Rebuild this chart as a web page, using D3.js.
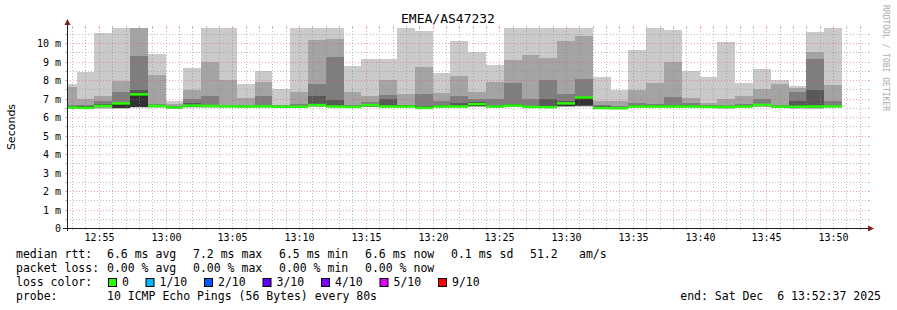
<!DOCTYPE html>
<meta charset='utf-8'>
<head>
  <title>EMEA/AS47232</title>
</head>

<style>
body {
  margin: 0;
  background: #fff;
}

text {
  font-family: "DejaVu Sans Mono", monospace;
  fill: #000;
}

.title { font-size: 13px; }
.tick-label { font-size: 10px; }
.legend text { font-size: 11.5px; }
.unit { font-family: "DejaVu Sans", sans-serif; font-size: 11px; }
.watermark { font-size: 8px; fill: #aaa; }

.grid line { shape-rendering: crispEdges; }
.minor { stroke: rgba(143,143,143,0.6); }
.major { stroke: rgba(222,79,79,0.5); }
.dash { stroke-dasharray: 1,2; }
</style>

<body>
  <svg width='897' height='310'>
    <defs>
      <clipPath id="plot-clip"><rect x="67" y="28" width="801" height="201"></rect></clipPath>
    </defs>
    <g class="smoke" clip-path="url(#plot-clip)"></g>
    <g class="median" clip-path="url(#plot-clip)"></g>
    <g class="grid"></g>
    <g class="axes"></g>
    <g class="legend"></g>
  </svg>

  <script src='https://cdn.jsdelivr.net/npm/d3@7'></script>
  <script>
var title = 'EMEA/AS47232';
var start = new Date(Date.UTC(2025, 11, 6, 12, 52, 37));
var end = new Date(Date.UTC(2025, 11, 6, 13, 52, 37));
var firstEnd = new Date(Date.UTC(2025, 11, 6, 12, 53, 20));
var stepSeconds = 80;

// median rtt per 80s interval (ms)
var medians = [
  6.52, 6.50, 6.60, 6.74, 7.23, 6.60, 6.52, 6.62, 6.60, 6.58, 6.57,
  6.58, 6.56, 6.56, 6.65, 6.57, 6.55, 6.65, 6.57, 6.57, 6.50, 6.57,
  6.57, 6.70, 6.57, 6.62, 6.55, 6.54, 6.74, 7.06, 6.49, 6.48, 6.57,
  6.57, 6.57, 6.57, 6.55, 6.55, 6.57, 6.66, 6.56, 6.56, 6.57, 6.58
];

// the 10 sorted pings of each interval (ms)
var pings = [
  [6.44, 6.46, 6.48, 6.50, 6.51, 6.56, 6.60, 6.68, 7.62, 7.80],
  [6.42, 6.44, 6.46, 6.47, 6.48, 6.52, 6.58, 6.68, 7.00, 8.44],
  [6.45, 6.50, 6.55, 6.57, 6.58, 6.62, 6.70, 6.86, 7.13, 10.55],
  [6.45, 6.47, 6.48, 6.49, 6.50, 6.74, 6.78, 7.34, 7.95, 11.20],
  [6.50, 6.52, 6.54, 6.56, 6.57, 7.28, 7.45, 9.30, 11.00, 11.50],
  [6.50, 6.52, 6.54, 6.56, 6.58, 6.62, 6.66, 6.72, 8.27, 9.40],
  [6.44, 6.46, 6.48, 6.49, 6.50, 6.54, 6.58, 6.62, 6.72, 6.86],
  [6.50, 6.52, 6.53, 6.55, 6.56, 6.62, 6.74, 7.00, 7.46, 8.64],
  [6.50, 6.52, 6.54, 6.55, 6.57, 6.62, 6.68, 7.13, 9.00, 11.30],
  [6.50, 6.52, 6.53, 6.55, 6.56, 6.60, 6.63, 6.68, 8.02, 11.40],
  [6.50, 6.52, 6.53, 6.54, 6.55, 6.59, 6.62, 6.66, 7.03, 7.77],
  [6.50, 6.52, 6.53, 6.55, 6.56, 6.60, 6.64, 7.12, 7.90, 8.50],
  [6.48, 6.50, 6.52, 6.53, 6.54, 6.57, 6.60, 6.63, 6.68, 7.52],
  [6.48, 6.50, 6.52, 6.53, 6.54, 6.58, 6.62, 6.70, 7.34, 11.20],
  [6.55, 6.57, 6.58, 6.60, 6.62, 6.68, 7.12, 7.77, 10.17, 11.30],
  [6.50, 6.52, 6.53, 6.55, 6.56, 6.60, 6.90, 9.25, 10.20, 11.50],
  [6.48, 6.50, 6.52, 6.53, 6.54, 6.57, 6.60, 6.65, 7.34, 8.77],
  [6.52, 6.54, 6.56, 6.58, 6.60, 6.65, 6.70, 6.79, 7.14, 9.13],
  [6.50, 6.52, 6.53, 6.55, 6.56, 6.60, 6.98, 7.20, 8.00, 9.13],
  [6.50, 6.52, 6.53, 6.55, 6.56, 6.60, 6.63, 6.66, 7.24, 11.30],
  [6.45, 6.47, 6.48, 6.50, 6.51, 6.54, 6.58, 7.24, 8.70, 10.65],
  [6.50, 6.52, 6.53, 6.55, 6.56, 6.60, 6.65, 6.86, 7.28, 8.37],
  [6.50, 6.52, 6.53, 6.55, 6.56, 6.62, 6.74, 7.13, 8.21, 10.10],
  [6.55, 6.57, 6.58, 6.60, 6.62, 6.72, 6.80, 6.96, 7.38, 9.52],
  [6.50, 6.52, 6.53, 6.55, 6.56, 6.60, 6.64, 6.96, 7.88, 8.80],
  [6.52, 6.54, 6.56, 6.58, 6.60, 6.65, 6.70, 7.83, 9.10, 11.30],
  [6.48, 6.50, 6.52, 6.53, 6.54, 6.58, 6.62, 7.00, 9.35, 11.20],
  [6.47, 6.49, 6.50, 6.52, 6.53, 6.57, 6.96, 7.99, 9.18, 11.40],
  [6.55, 6.57, 6.59, 6.60, 6.62, 6.76, 6.85, 7.23, 10.10, 11.50],
  [6.55, 6.58, 6.60, 6.62, 6.63, 7.02, 7.10, 8.04, 10.38, 11.30],
  [6.42, 6.44, 6.46, 6.47, 6.48, 6.52, 6.58, 6.64, 6.86, 8.15],
  [6.42, 6.44, 6.45, 6.46, 6.47, 6.50, 6.55, 6.62, 6.88, 7.46],
  [6.50, 6.52, 6.53, 6.55, 6.56, 6.60, 6.66, 6.74, 7.46, 9.62],
  [6.50, 6.52, 6.53, 6.55, 6.56, 6.60, 6.64, 6.70, 7.84, 11.30],
  [6.50, 6.52, 6.53, 6.55, 6.56, 6.60, 6.65, 7.08, 8.98, 10.71],
  [6.50, 6.52, 6.53, 6.55, 6.56, 6.60, 6.65, 6.74, 7.06, 8.50],
  [6.48, 6.50, 6.52, 6.53, 6.54, 6.57, 6.60, 6.65, 6.74, 8.15],
  [6.46, 6.48, 6.50, 6.52, 6.53, 6.56, 6.60, 6.64, 6.97, 10.05],
  [6.50, 6.52, 6.53, 6.55, 6.56, 6.60, 6.65, 6.72, 7.12, 7.83],
  [6.55, 6.57, 6.58, 6.60, 6.62, 6.66, 6.72, 6.96, 7.50, 8.59],
  [6.48, 6.50, 6.52, 6.53, 6.54, 6.57, 6.60, 6.64, 7.77, 7.99],
  [6.45, 6.47, 6.48, 6.50, 6.51, 6.56, 6.85, 7.35, 7.55, 7.67],
  [6.45, 6.47, 6.48, 6.50, 6.52, 6.62, 7.45, 9.13, 9.52, 10.61],
  [6.50, 6.52, 6.53, 6.55, 6.56, 6.60, 6.64, 6.85, 7.73, 11.30]
];

var smokeColors = ['#cacaca', '#a4a4a4', '#7e7e7e', '#585858', '#323232'];
var lossLabels = ['0', '1/10', '2/10', '3/10', '4/10', '5/10', '9/10'];
var lossColors = ['#26ff00', '#00b8ff', '#0059ff', '#5e00ff', '#7e00ff', '#dd00ff', '#ff0000'];

var rttStats = ['6.6 ms avg', '7.2 ms max', '6.5 ms min', '6.6 ms now', '0.1 ms sd'];
var rttExtra = ['51.2', 'am/s'];
var lossStats = ['0.00 % avg', '0.00 % max', '0.00 % min', '0.00 % now'];
var probeText = '10 ICMP Echo Pings (56 Bytes) every 80s';
var endText = 'end: Sat Dec  6 13:52:37 2025';
var yMax = 10.82;

var plotLeft = 67, plotRight = 868, plotTop = 28, plotBottom = 228;
var svg = d3.select('svg');

var x = d3.scaleUtc().domain([start, end]).range([plotLeft, plotRight]);
var y = d3.scaleLinear().domain([0, yMax]).range([plotBottom, plotTop]);

var intervals = pings.map(function(p, i) {
  var e = d3.utcSecond.offset(firstEnd, i * stepSeconds);
  return {
    start: d3.utcSecond.offset(e, -stepSeconds),
    end: e,
    pings: p,
    median: medians[i]
  };
});

function px(t) { return Math.max(plotLeft, Math.round(x(t))); }

// smoke: layer k spans ping k to ping 9-k, darker layers on top
smokeColors.forEach(function(color, k) {
  svg.select('.smoke').append('g')
    .selectAll('rect')
    .data(intervals)
    .enter()
    .append('rect')
    .attr('x', function(d) { return px(d.start); })
    .attr('width', function(d) { return px(d.end) - px(d.start); })
    .attr('y', function(d) { return Math.round(y(d.pings[9 - k])); })
    .attr('height', function(d) { return Math.round(y(d.pings[k])) - Math.round(y(d.pings[9 - k])); })
    .attr('fill', color)
    .attr('shape-rendering', 'crispEdges');
});

svg.select('.median')
  .selectAll('rect')
  .data(intervals)
  .enter()
  .append('rect')
  .attr('x', function(d) { return px(d.start); })
  .attr('width', function(d) { return px(d.end) - px(d.start); })
  .attr('y', function(d) { return y(d.median) - 1.25; })
  .attr('height', 2.5)
  .attr('fill', lossColors[0]);

// grid, drawn on top of the data like rrdtool does
var grid = svg.select('.grid');
var minutes = x.ticks(d3.utcMinute.every(1));
var fives = x.ticks(d3.utcMinute.every(5));
var fiveKeys = fives.map(Number);

minutes.forEach(function(t) {
  var cls = fiveKeys.indexOf(+t) >= 0 ? 'major' : 'minor';
  var xx = Math.round(x(t)) + 0.5;
  grid.append('line').attr('class', cls + ' dash')
    .attr('x1', xx).attr('x2', xx).attr('y1', plotTop).attr('y2', plotBottom);
  grid.append('line').attr('class', cls)
    .attr('x1', xx).attr('x2', xx).attr('y1', plotBottom).attr('y2', plotBottom + 2);
  grid.append('line').attr('class', cls)
    .attr('x1', xx).attr('x2', xx).attr('y1', plotTop - 2).attr('y2', plotTop);
});

var halfSteps = d3.range(1, 22).map(function(i) { return i / 2; }).filter(function(v) { return v <= yMax; });
halfSteps.forEach(function(v) {
  var cls = v % 1 === 0 ? 'major' : 'minor';
  var yy = Math.round(y(v)) + 0.5;
  grid.append('line').attr('class', cls + ' dash')
    .attr('x1', plotLeft).attr('x2', plotRight).attr('y1', yy).attr('y2', yy);
  grid.append('line').attr('class', cls)
    .attr('x1', plotLeft - 2).attr('x2', plotLeft).attr('y1', yy).attr('y2', yy);
  grid.append('line').attr('class', cls)
    .attr('x1', plotRight).attr('x2', plotRight + 2).attr('y1', yy).attr('y2', yy);
});

// axes
var axes = svg.select('.axes');
axes.append('line')
  .attr('x1', plotLeft - 4).attr('x2', plotRight + 1)
  .attr('y1', plotBottom + 0.5).attr('y2', plotBottom + 0.5)
  .attr('stroke', '#1f1f1f');
axes.append('line')
  .attr('x1', plotLeft + 0.5).attr('x2', plotLeft + 0.5)
  .attr('y1', plotBottom + 3).attr('y2', plotTop - 3)
  .attr('stroke', '#1f1f1f');
axes.append('path')
  .attr('d', 'M' + plotRight + ',' + (plotBottom - 2.5) + 'L' + (plotRight + 6) + ',' + (plotBottom + 0.5) + 'L' + plotRight + ',' + (plotBottom + 3.5) + 'Z')
  .attr('fill', '#801f1f');
axes.append('path')
  .attr('d', 'M' + (plotLeft - 2.5) + ',' + (plotTop - 3) + 'L' + (plotLeft + 0.5) + ',' + (plotTop - 9) + 'L' + (plotLeft + 3.5) + ',' + (plotTop - 3) + 'Z')
  .attr('fill', '#801f1f');

axes.selectAll('text.xl')
  .data(fives)
  .enter()
  .append('text')
  .attr('class', 'tick-label')
  .attr('x', function(d) { return Math.round(x(d)) + 0.5; })
  .attr('y', 241)
  .attr('text-anchor', 'middle')
  .text(d3.utcFormat('%H:%M'));

axes.selectAll('text.yl')
  .data(y.ticks(10).filter(function(v) { return v % 1 === 0; }))
  .enter()
  .append('text')
  .attr('class', 'tick-label')
  .attr('x', 61)
  .attr('y', function(d) { return Math.round(y(d)) + 0.5; })
  .attr('dy', '0.36em')
  .attr('text-anchor', 'end')
  .text(function(d) { return d === 0 ? '0' : d + ' m'; });

svg.append('text')
  .attr('class', 'title')
  .attr('x', 448).attr('y', 23)
  .attr('text-anchor', 'middle')
  .text(title);

svg.append('text')
  .attr('class', 'unit')
  .attr('transform', 'translate(15,127) rotate(-90)')
  .attr('text-anchor', 'middle')
  .text('Seconds');

svg.append('text')
  .attr('class', 'watermark')
  .attr('transform', 'translate(883,5) rotate(90)')
  .text('RRDTOOL / TOBI OETIKER');

// legend
var legend = svg.select('.legend');
var cols = [107, 193, 279, 365, 451];

function put(str, xx, yy, anchor) {
  legend.append('text')
    .attr('x', xx).attr('y', yy)
    .attr('text-anchor', anchor || 'start')
    .attr('xml:space', 'preserve')
    .style('white-space', 'pre')
    .text(str);
}

put('median rtt:', 16, 258);
rttStats.forEach(function(s, i) { put(s, cols[i], 258); });
put(rttExtra[0], 530, 258);
put(rttExtra[1], 579, 258);

put('packet loss:', 16, 272);
lossStats.forEach(function(s, i) { put(s, cols[i], 272); });

put('loss color:', 16, 286);
var sx = 108;
lossLabels.forEach(function(lbl, i) {
  legend.append('rect')
    .attr('x', sx + 0.5).attr('y', 278.5)
    .attr('width', 8).attr('height', 8)
    .attr('fill', lossColors[i])
    .attr('stroke', '#000');
  put(lbl, sx + 14, 286);
  sx += 14 + lbl.length * 7 + 16.5;
});

put('probe:', 16, 300);
put(probeText, 107, 300);
put(endText, 881, 300, 'end');
  </script>
</body>
</html>
